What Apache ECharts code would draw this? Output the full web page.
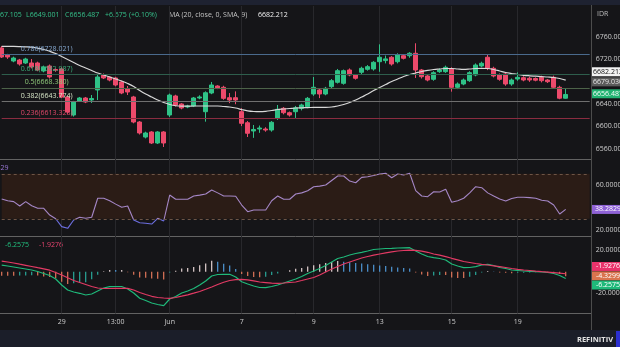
<!DOCTYPE html>
<html><head><meta charset="utf-8">
<script src="https://cdn.jsdelivr.net/npm/echarts/dist/echarts.min.js"></script>
<style>html,body{margin:0;padding:0;background:#151518;}#c{width:620px;height:347px;}</style>
</head><body><div id="c"></div>
<script>
// ---------- data ----------
const slotCount = 99; // 95 candles + empty right margin slots
const slots = Array.from({length: slotCount}, (_, i) => String(i));
const tickIndex = [10, 19, 28, 40, 52, 63, 75, 86];
const tickText = ['29', '13:00', 'Jun', '7', '9', '13', '15', '19'];

const opens = [6739.5,6727.0,6716.2,6718.0,6712.7,6712.7,6712.7,6698.4,6707.3,6701.0,
6702.0,6652.0,6619.8,6644.8,6650.2,6646.6,6664.5,6691.3,6687.7,6685.9,
6678.8,6666.3,6652.0,6607.3,6580.5,6589.5,6569.8,6589.5,6619.8,6653.8,
6639.5,6634.1,6635.9,6650.2,6625.7,6659.1,6671.6,6669.3,6650.7,6650.7,
6625.7,6606.0,6591.3,6594.8,6594.8,6593.0,6613.9,6631.8,6623.9,6625.7,
6631.8,6634.6,6657.3,6664.5,6657.3,6670.4,6678.2,6676.4,6700.2,6691.3,
6696.1,6701.4,6702.0,6715.0,6717.0,6722.9,6715.0,6725.7,6725.7,6730.0,
6700.2,6689.5,6683.6,6697.2,6697.2,6702.0,6669.3,6675.2,6681.1,6691.3,
6707.3,6722.9,6703.2,6691.3,6693.0,6675.2,6684.1,6686.4,6685.4,6685.0,
6687.1,6682.3,6687.1,6669.3,6649.8];
const closes = [6723.4,6723.4,6721.6,6710.9,6719.8,6705.6,6700.2,6705.6,6687.7,6700.0,
6652.0,6625.2,6643.0,6650.2,6643.0,6649.3,6687.7,6685.9,6682.3,6673.4,
6659.1,6660.9,6607.3,6587.7,6587.7,6569.8,6589.5,6569.8,6655.5,6637.7,
6632.3,6635.9,6650.2,6652.0,6659.6,6673.4,6668.1,6649.6,6646.6,6646.6,
6605.0,6587.2,6594.0,6596.6,6593.0,6606.8,6630.0,6623.9,6619.8,6632.8,
6637.7,6649.6,6669.3,6657.3,6667.5,6681.1,6698.9,6698.9,6691.3,6685.4,
6703.2,6706.1,6713.9,6722.9,6720.0,6710.9,6727.0,6721.1,6730.0,6700.2,
6688.2,6682.3,6695.4,6700.2,6705.0,6669.3,6675.2,6682.3,6695.4,6709.1,
6712.2,6703.2,6689.5,6683.6,6675.2,6682.3,6687.1,6682.3,6682.3,6682.0,
6681.1,6679.3,6669.3,6649.8,6656.487];
const lows = [6721.6,6720.0,6714.0,6708.0,6711.0,6703.0,6698.0,6696.0,6685.0,6697.0,
6650.0,6622.0,6617.0,6643.0,6641.0,6641.3,6646.6,6684.0,6680.0,6671.0,
6657.0,6655.5,6605.0,6585.0,6578.0,6568.0,6568.0,6562.7,6616.3,6635.0,
6630.0,6632.0,6634.0,6648.0,6607.9,6657.0,6666.0,6647.0,6641.0,6639.0,
6600.0,6580.5,6579.0,6588.0,6590.0,6590.0,6611.0,6621.0,6617.0,6614.5,
6628.0,6632.0,6654.0,6650.0,6655.0,6668.0,6676.0,6674.0,6689.0,6683.0,
6693.0,6699.0,6699.0,6697.0,6712.0,6708.0,6712.0,6719.0,6722.0,6686.0,
6685.0,6680.0,6681.0,6695.0,6695.0,6661.5,6666.0,6673.0,6679.0,6689.0,
6705.0,6700.0,6687.0,6681.0,6672.0,6672.0,6681.0,6680.0,6679.0,6680.0,
6678.0,6677.0,6667.0,6648.0,6649.001];
const highs = [6743.0,6729.0,6724.0,6720.0,6722.0,6719.8,6715.0,6708.0,6710.0,6703.0,
6705.0,6654.0,6645.0,6652.0,6652.0,6655.5,6693.0,6694.0,6689.0,6688.0,
6681.0,6671.6,6654.0,6609.0,6590.0,6591.0,6591.0,6591.0,6658.0,6656.0,
6641.0,6638.0,6652.0,6655.0,6662.0,6678.8,6673.0,6672.0,6659.0,6662.0,
6632.0,6609.0,6602.0,6601.0,6598.0,6609.0,6637.7,6634.0,6626.0,6636.0,
6640.0,6652.0,6687.7,6667.0,6670.0,6684.0,6702.0,6701.0,6703.0,6693.0,
6706.0,6709.0,6716.0,6746.0,6726.0,6725.0,6730.0,6728.0,6732.0,6747.9,
6702.0,6692.0,6698.0,6703.0,6708.0,6705.0,6678.0,6685.0,6698.0,6712.0,
6715.0,6727.0,6706.0,6694.0,6696.0,6685.0,6696.0,6689.0,6688.0,6687.0,
6690.0,6684.0,6690.0,6672.0,6667.105];

const ma20 = [6742.2,6742.2,6742.2,6742.0,6741.6,6740.9,6739.1,6736.8,6733.6,6729.6,
6724.3,6718.9,6713.6,6708.2,6703.8,6699.3,6694.8,6691.3,6687.7,6684.1,
6680.5,6676.1,6670.7,6663.6,6657.3,6652.0,6646.6,6642.1,6638.6,6636.3,
6635.5,6635.5,6635.9,6635.9,6635.9,6635.9,6635.9,6635.0,6634.1,6632.3,
6629.6,6627.3,6626.1,6625.7,6626.4,6627.9,6629.6,6630.5,6631.4,6632.3,
6632.7,6633.0,6633.4,6633.6,6633.6,6634.1,6635.9,6638.6,6642.1,6646.6,
6652.0,6657.3,6663.6,6668.9,6674.3,6679.7,6684.1,6688.6,6692.1,6694.8,
6697.5,6699.6,6701.1,6702.0,6702.9,6702.9,6702.0,6701.4,6702.0,6702.9,
6703.2,6702.9,6701.1,6698.4,6695.7,6693.9,6692.1,6690.7,6689.8,6689.1,
6688.4,6687.7,6686.8,6685.0,6682.212];

const rsi = [47.6,46.0,45.2,41.3,45.2,41.5,39.3,39.3,33.3,30.0,
23.0,21.5,28.9,31.3,30.5,31.3,48.2,48.2,46.0,43.0,
40.2,41.3,28.9,26.5,26.0,25.3,30.4,28.0,51.1,47.3,
47.3,47.3,50.2,51.0,52.0,55.6,53.0,50.2,50.2,50.0,
42.2,36.3,37.8,37.8,37.8,46.0,50.2,47.3,47.3,52.0,
53.0,54.9,58.5,59.0,60.0,64.0,68.0,68.0,63.5,62.0,
66.8,67.4,68.5,69.8,70.4,66.5,69.8,68.9,70.4,55.0,
50.2,49.6,54.0,53.8,56.2,44.6,46.0,48.2,53.0,58.5,
57.6,53.0,50.2,47.5,45.8,48.0,49.1,49.1,48.8,48.2,
46.5,45.8,42.2,34.2,38.2829];

const macdLine = [6.05,5.30,4.37,3.44,2.51,1.58,0.19,-1.67,-3.53,-6.79,
-12.37,-17.02,-18.88,-20.09,-21.67,-20.74,-17.95,-15.16,-13.95,-13.77,
-13.77,-16.09,-19.81,-24.74,-26.79,-29.12,-30.51,-31.63,-25.40,-23.07,
-19.81,-17.95,-15.63,-12.37,-8.65,-4.00,-2.60,-2.42,-2.42,-4.93,
-9.30,-11.44,-13.30,-14.70,-14.88,-13.77,-12.37,-10.51,-8.65,-6.79,
-4.47,-1.67,0.65,2.98,5.77,9.02,12.28,13.67,15.53,16.93,
18.05,19.26,20.65,21.12,21.58,21.77,22.05,22.23,22.33,19.26,
16.47,14.14,13.02,12.28,10.88,7.16,5.30,3.72,3.91,4.65,
6.23,6.88,5.77,3.91,2.98,1.58,1.12,0.65,0.37,0.00,
-0.28,-0.74,-1.67,-3.53,-6.2575];
const signalLine = [9.77,9.02,8.09,6.98,5.95,4.84,3.72,2.70,1.40,-0.74,
-3.07,-5.67,-8.19,-10.05,-11.91,-13.77,-15.16,-15.63,-15.63,-15.44,
-15.44,-15.53,-17.02,-19.35,-21.21,-22.88,-24.00,-24.47,-24.74,-24.00,
-22.79,-21.49,-20.00,-18.42,-16.37,-14.23,-11.91,-9.86,-8.19,-7.44,
-7.07,-7.53,-8.47,-9.58,-10.14,-10.70,-10.79,-10.51,-10.05,-9.58,
-8.19,-6.79,-5.40,-3.07,-0.28,2.51,4.84,7.16,9.02,10.88,
12.74,14.14,15.35,16.47,17.58,18.51,19.26,19.72,20.09,19.91,
19.07,18.05,16.47,15.35,13.95,12.47,11.07,9.49,8.56,7.63,
6.88,6.23,5.49,4.74,3.91,2.98,2.14,1.58,1.12,0.56,
0.09,-0.37,-0.84,-1.40,-1.9276];
const histogram = [-3.72,-3.72,-3.72,-3.54,-3.44,-3.26,-3.53,-4.37,-4.93,-6.05,
-9.30,-11.35,-10.69,-10.04,-9.76,-6.97,-2.79,0.47,1.68,1.67,
1.67,-0.56,-2.79,-5.39,-5.58,-6.24,-6.51,-7.16,-0.66,0.93,
2.98,3.54,4.37,6.05,7.72,10.23,9.31,7.44,5.77,2.51,
-2.23,-3.91,-4.83,-5.12,-4.74,-3.07,-1.58,0.00,1.40,2.79,
3.50,4.80,6.00,7.00,8.00,9.00,10.00,9.30,8.70,8.20,
7.60,7.00,6.40,5.80,5.20,4.60,4.00,3.40,2.90,-0.65,
-2.60,-3.91,-3.45,-3.07,-3.07,-5.31,-5.77,-5.77,-4.65,-2.98,
-0.65,0.65,0.28,-0.83,-0.93,-1.40,-1.02,-0.93,-0.75,-0.56,
-0.37,-0.37,-0.83,-2.13,-4.3299];

const fibRatios = ['0.236', '0.382', '0.5', '0.618', '0.786'];
const fibLevels = [6613.328, 6643.774, 6668.380, 6692.987, 6728.021];
const refLevel = 6679.03;
const lastClose = 6656.487;
const maLast = 6682.212;
const rsiLast = 38.2829;
const macdLast = -6.2575, signalLast = -1.9276, histLast = -4.3299;

const priceLabels = [6560, 6600, 6640, 6720, 6760];
const rsiLabels = [20, 60];
const macdLabels = [-20, 20];
const rsiBand = [30, 70];

// ---------- styling ----------
const FONT = '"Open Sans", "DejaVu Sans", sans-serif';
const UP = '#2fc287', DOWN = '#ec4a6b';
const AXC = '#cdcdcd';
const RSI_C = '#a486c6', RSI_LOW = '#6c6ee0';
const fibLineColors = ['#8a2c40', '#6f6f6f', '#4d6349', '#2e5e4c', '#4a6a8d'];
const fibTextColors = ['#e2486a', '#d6e4c6', '#8fca7a', '#3db07c', '#86a9d1'];
const gridLeft = 1.7, gridWidth = 588;

const candleData = opens.map((o, i) => [o, closes[i], lows[i], highs[i]]);
const histData = histogram.map((v, i) => {
  const p = i > 0 ? histogram[i - 1] : v;
  let c;
  if (v >= 0) c = v >= p ? '#e4d2d2' : '#4f98d8';
  else c = v <= p ? '#e2775a' : '#2aa99b';
  return {value: v, itemStyle: {color: c}};
});

function tag(value, text, bgc, fg, dy) {
  return {
    coord: [slotCount - 1, value], value: value,
    symbol: 'rect', symbolSize: [32, 9], symbolOffset: [18.3, dy],
    itemStyle: {color: bgc},
    label: {show: true, position: 'inside', formatter: text, color: fg, fontSize: 7, fontFamily: FONT}
  };
}

const isTick = (idx) => tickIndex.indexOf(idx) >= 0;

const xAxes = [0, 1, 2, 3].map(g => ({
  type: 'category', gridIndex: g, data: slots, boundaryGap: false,
  axisLine: {show: false}, axisTick: {show: false},
  axisLabel: {
    show: g === 3, interval: isTick,
    formatter: (v, idx) => { const k = tickIndex.indexOf(idx); return k >= 0 ? tickText[k] : ''; },
    color: AXC, fontSize: 7, fontFamily: FONT, margin: 5
  },
  splitLine: {show: g === 3, interval: isTick, lineStyle: {color: '#28282c', width: 1}}
}));

function yAx(g, min, max, interval, shown, digits) {
  return {
    type: 'value', gridIndex: g, position: 'right', min, max, interval, scale: false,
    axisLine: {show: false}, axisTick: {show: false}, splitLine: {show: false},
    axisLabel: {
      color: AXC, fontSize: 7, fontFamily: FONT, margin: 6,
      formatter: v => shown.indexOf(v) >= 0 ? v.toFixed(digits) : ''
    }
  };
}

const gridBase = {left: gridLeft, width: gridWidth, containLabel: false, outerBoundsMode: 'none'};

const option = {
  animation: false,
  backgroundColor: '#151518',
  grid: [
    Object.assign({top: 14.1, height: 156.8}, gridBase),
    Object.assign({top: 140, height: 112.5}, gridBase),
    Object.assign({top: 228.7, height: 86}, gridBase),
    Object.assign({top: 6, height: 307.5}, gridBase)
  ],
  xAxis: xAxes,
  yAxis: [
    yAx(0, 6520, 6800, 40, priceLabels, 2),
    yAx(1, 0, 100, 20, rsiLabels, 4),
    yAx(2, -40, 40, 20, macdLabels, 4),
    {type: 'value', gridIndex: 3, show: false}
  ],
  series: [
    {
      type: 'candlestick', xAxisIndex: 0, yAxisIndex: 0, data: candleData,
      barWidth: 4, clip: false,
      itemStyle: {color: UP, color0: DOWN, borderColor: UP, borderColor0: DOWN, borderWidth: 1},
      markLine: {
        silent: true, symbol: ['none', 'none'], animation: false,
        data: fibLevels.map((v, k) => ({
          yAxis: v,
          lineStyle: {color: fibLineColors[k], width: 1, type: 'solid'},
          label: {
            show: true, position: 'insideStartTop', distance: [fibRatios[k] === '0.5' ? 23 : 19, 2],
            formatter: fibRatios[k] + '(' + v.toFixed(3) + ')',
            color: fibTextColors[k], fontSize: 7, fontFamily: FONT
          }
        }))
      }
    },
    {
      type: 'line', xAxisIndex: 0, yAxisIndex: 0, data: ma20, symbol: 'none', smooth: 0.4,
      lineStyle: {color: '#d8d8d8', width: 1.2}, z: 3,
      markPoint: {
        silent: true, animation: false,
        data: [
          tag(maLast, maLast.toFixed(3), '#f2f2f2', '#111111', -8.3),
          tag(refLevel, refLevel.toFixed(3), '#5b5b5b', '#e6e6e6', 0),
          tag(lastClose, lastClose.toFixed(3), '#22b372', '#f4fff8', -0.7)
        ]
      }
    },
    {
      type: 'line', xAxisIndex: 1, yAxisIndex: 1, data: rsi, symbol: 'none',
      lineStyle: {width: 1.1, color: RSI_C},
      markArea: {silent: true, itemStyle: {color: '#2b1c16'}, data: [[{yAxis: rsiBand[0]}, {yAxis: rsiBand[1]}]]},
      markLine: {
        silent: true, symbol: ['none', 'none'], label: {show: false},
        lineStyle: {color: '#6e5546', type: [3, 3], width: 1},
        data: [{yAxis: rsiBand[1]}, {yAxis: rsiBand[0]}]
      },
      markPoint: {silent: true, data: [tag(rsiLast, rsiLast.toFixed(4), '#8e62d6', '#ffffff', 0)]}
    },
    {
      type: 'bar', xAxisIndex: 2, yAxisIndex: 2, data: histData, barWidth: 1.2,
      markPoint: {silent: true, data: [tag(histLast, histLast.toFixed(4), '#d9744e', '#ffffff', -0.5)]}
    },
    {
      type: 'line', xAxisIndex: 2, yAxisIndex: 2, data: macdLine, symbol: 'none',
      lineStyle: {color: '#1fb97a', width: 1.2},
      markPoint: {silent: true, data: [tag(macdLast, macdLast.toFixed(4), '#1fb97a', '#ffffff', 6.6)]}
    },
    {
      type: 'line', xAxisIndex: 2, yAxisIndex: 2, data: signalLine, symbol: 'none',
      lineStyle: {color: '#e23a64', width: 1.2},
      markPoint: {silent: true, data: [tag(signalLast, signalLast.toFixed(4), '#e8336b', '#ffffff', -7.3)]}
    }
  ],
  graphic: [
    {type: 'rect', shape: {x: 0, y: 0, width: 620, height: 5}, style: {fill: '#1e2231'}, z: -5, silent: true},
    {type: 'rect', shape: {x: 0, y: 330, width: 620, height: 17}, style: {fill: '#1b1e29'}, z: -5, silent: true},
    {type: 'rect', shape: {x: 616, y: 331, width: 4, height: 16}, style: {fill: '#2b2fd0'}, silent: true},
    {type: 'line', shape: {x1: 0, y1: 159.5, x2: 591, y2: 159.5}, style: {stroke: '#626262', lineWidth: 1}, silent: true},
    {type: 'line', shape: {x1: 0, y1: 236.5, x2: 591, y2: 236.5}, style: {stroke: '#626262', lineWidth: 1}, silent: true},
    {type: 'line', shape: {x1: 0, y1: 313.5, x2: 591, y2: 313.5}, style: {stroke: '#626262', lineWidth: 1}, silent: true},
    {type: 'line', shape: {x1: 591.5, y1: 5, x2: 591.5, y2: 330}, style: {stroke: '#4c4c4c', lineWidth: 1}, silent: true},
    {type: 'text', x: 0, y: 15, style: {text: '67.105', fill: '#35c08a', font: '7px ' + FONT, verticalAlign: 'middle'}},
    {type: 'text', x: 26, y: 15, style: {text: 'L6649.001', fill: '#35c08a', font: '7px ' + FONT, verticalAlign: 'middle'}},
    {type: 'text', x: 65, y: 15, style: {text: 'C6656.487', fill: '#35c08a', font: '7px ' + FONT, verticalAlign: 'middle'}},
    {type: 'text', x: 105, y: 15, style: {text: '+6.675', fill: '#35c08a', font: '7px ' + FONT, verticalAlign: 'middle'}},
    {type: 'text', x: 129, y: 15, style: {text: '(+0.10%)', fill: '#35c08a', font: '7px ' + FONT, verticalAlign: 'middle'}},
    {type: 'text', x: 169, y: 15, style: {text: 'MA (20, close, 0, SMA, 9)', fill: '#c4c4c4', font: '7px ' + FONT, verticalAlign: 'middle'}},
    {type: 'text', x: 258, y: 15, style: {text: '6682.212', fill: '#f0f0f0', font: '7px ' + FONT, verticalAlign: 'middle'}},
    {type: 'text', x: 597, y: 14, style: {text: 'IDR', fill: '#bdbdbd', font: '7px ' + FONT, verticalAlign: 'middle'}},
    {type: 'text', x: 8.5, y: 168, style: {text: 'RSI (14) 38.2829', fill: '#9a78d6', font: '7px ' + FONT, verticalAlign: 'middle', align: 'right'}},
    {type: 'text', x: 5, y: 245, style: {text: '-6.2575', fill: '#22c07f', font: '7px ' + FONT, verticalAlign: 'middle'}},
    {type: 'text', x: 39, y: 245, style: {text: '-1.9276', fill: '#e8456f', font: '7px ' + FONT, verticalAlign: 'middle'}},
    {type: 'text', x: 613, y: 340, style: {text: 'REFINITIV', fill: '#e4e4e4', font: 'bold 7.5px ' + FONT, verticalAlign: 'middle', align: 'right'}}
  ]
};

const chart = echarts.init(document.getElementById('c'), null, {renderer: 'canvas', width: 620, height: 347});
chart.setOption(option);

// RSI line: bluish below the 30 level, using the axis scale to find the pixel position of 30
try {
  const yTop = chart.convertToPixel({yAxisIndex: 1}, 100);
  const yBot = chart.convertToPixel({yAxisIndex: 1}, 0);
  const y30 = chart.convertToPixel({yAxisIndex: 1}, rsiBand[0]);
  const f = (y30 - yTop) / (yBot - yTop);
  chart.setOption({series: [{}, {}, {lineStyle: {color: new echarts.graphic.LinearGradient(0, yTop, 0, yBot, [
    {offset: 0, color: RSI_C}, {offset: f, color: RSI_C}, {offset: f, color: RSI_LOW}, {offset: 1, color: RSI_LOW}
  ], true)}}]});
} catch (e) { console.log(e); }
</script>
</body></html>
